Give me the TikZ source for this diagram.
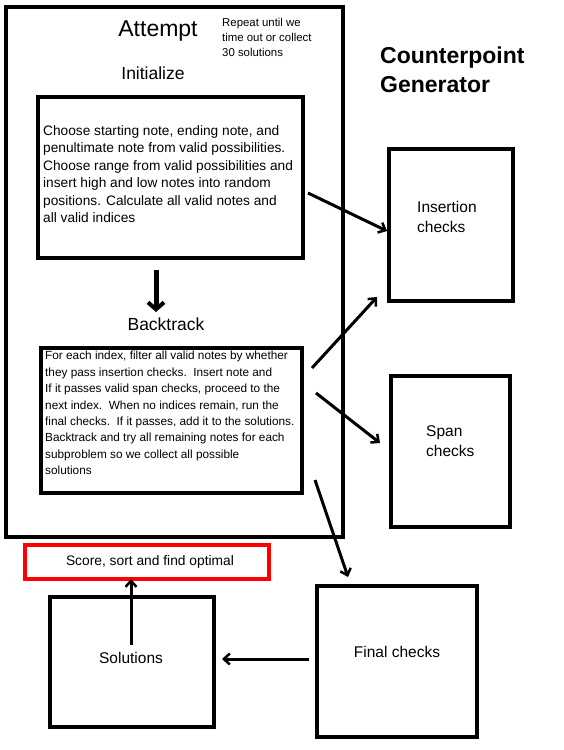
\documentclass[tikz,border=0pt]{standalone}
\usepackage{fontspec}
\setmainfont{Liberation Sans}
\usetikzlibrary{arrows.meta}
\tikzset{
  box/.style={draw=black, line width=3.5pt, minimum width=#1, inner sep=0pt, anchor=center},
  lbl/.style={inner sep=0pt, align=left, anchor=west},
  arr/.style={draw=black, line width=3pt, -{Straight Barb[length=6pt,width=11pt,line width=2.5pt]}},
  fs/.style 2 args={font=\fontsize{#1}{#2}\selectfont}
}
\begin{document}
\begin{tikzpicture}[x=1pt,y=-1pt]
\useasboundingbox[fill=white] (0,0) rectangle (563,750);
% outer attempt box
\node[box=337pt, line width=4pt, minimum height=530pt] (attempt) at (174.5,272) {};
\node[fs={23}{26}, inner sep=0pt] (attemptT) at (158,31) {Attempt};
\node[lbl, fs={11.4}{15}] (repeat) at (222,37) {Repeat until we\\time out or collect\\30 solutions};
\node[fs={17.5}{20}, inner sep=0pt] (initT) at (153,73) {Initialize};
% init box
\node[box=265pt, minimum height=161pt] (init) at (170.5,177.5) {};
\node[lbl, fs={13.7}{17.5}] (initText) at (43,174) {Choose starting note, ending note, and\\penultimate note from valid possibilities.\\Choose range from valid possibilities and\\insert high and low notes into random\\positions. Calculate all valid notes and\\all valid indices};
% backtrack
\node[fs={17.5}{20}, inner sep=0pt] (backT) at (166,324) {Backtrack};
\node[box=261pt, minimum height=145pt] (back) at (171.5,420.5) {};
\node[lbl, fs={11.8}{16.4}] (backText) at (45,413) {For each index, filter all valid notes by whether\\they pass insertion checks.\ \ Insert note and\\If it passes valid span checks, proceed to the\\next index.\ \ When no indices remain, run the\\final checks.\ \ If it passes, add it to the solutions.\\Backtrack and try all remaining notes for each\\subproblem so we collect all possible\\solutions};
% title
\node[lbl, font=\fontsize{23}{29}\selectfont\bfseries] (title) at (380,70) {Counterpoint\\Generator};
% checks boxes
\node[box=124pt, minimum height=152pt] (ins) at (451,225) {};
\node[lbl, fs={15.5}{20}] (insT) at (417,217) {Insertion\\checks};
\node[box=119pt, minimum height=151pt] (span) at (450.5,451.5) {};
\node[lbl, fs={15.5}{20}] (spanT) at (426,441) {Span\\checks};
\node[box=160pt, minimum height=151pt] (final) at (397,661.5) {};
\node[fs={15.5}{20}, inner sep=0pt] (finalT) at (397,652) {Final checks};
\node[box=164pt, minimum height=130pt] (sol) at (132,662) {};
\node[fs={15.5}{20}, inner sep=0pt] (solT) at (131,658) {Solutions};
\node[box=244pt, draw=red, minimum height=34pt] (score) at (147,562) {};
\node[fs={13.8}{16}, inner sep=0pt] (scoreT) at (150,562) {Score, sort and find optimal};
% connector ends
\coordinate (d1) at (156,270); \coordinate (d2) at (156,312);
\coordinate (a1s) at (308,193); \coordinate (a1e) at (387,231);
\coordinate (a2s) at (312,368); \coordinate (a2e) at (377,297);
\coordinate (a3s) at (316,393); \coordinate (a3e) at (380,443);
\coordinate (a4s) at (315,480); \coordinate (a4e) at (348,577);
\coordinate (a5s) at (309,659); \coordinate (a5e) at (222,659);
\coordinate (a6s) at (131,645); \coordinate (a6e) at (131,579);
\draw[arr, line width=5pt, -{Straight Barb[length=7pt,width=16pt,line width=4pt]}] (d1) -- (d2);
\draw[arr] (a1s) -- (a1e);
\draw[arr] (a2s) -- (a2e);
\draw[arr] (a3s) -- (a3e);
\draw[arr] (a4s) -- (a4e);
\draw[arr] (a5s) -- (a5e);
\draw[arr] (a6s) -- (a6e);
\end{tikzpicture}
\end{document}
